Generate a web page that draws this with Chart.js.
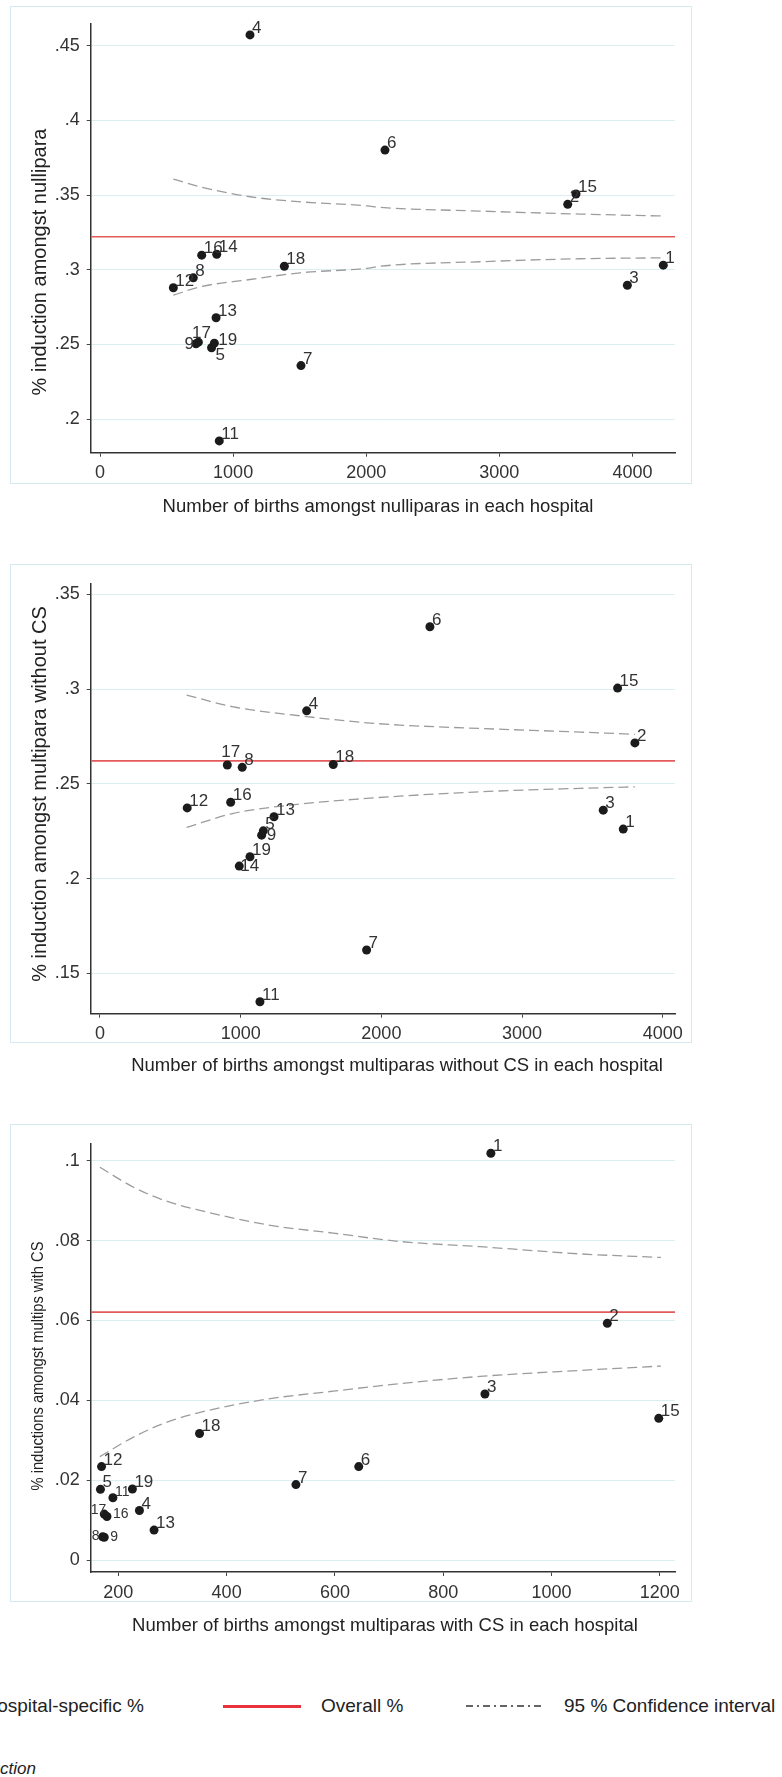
<!DOCTYPE html>
<html>
<head>
<meta charset="utf-8">
<script src="https://cdn.jsdelivr.net/npm/chart.js@4.4.1/dist/chart.umd.min.js"></script>
<style>
  body { margin: 0; width: 782px; height: 1777px; overflow: hidden; background: #fff; position: relative; font-family: "Liberation Sans", Arial, sans-serif; }
  .frame { position: absolute; border: 1px solid #d4eaee; box-sizing: border-box; }
  canvas { position: absolute; left: 0; }
  .leg { position: absolute; font-size: 19px; color: #222; white-space: nowrap; line-height: 22px; }
</style>
</head>
<body>
<div class="frame" style="left:10px;top:6px;width:682px;height:478px"></div>
<div class="frame" style="left:10px;top:564px;width:682px;height:479px"></div>
<div class="frame" style="left:10px;top:1124px;width:682px;height:478px"></div>

<canvas id="nulli" width="782" height="540" style="top:0px"></canvas>
<canvas id="multi" width="782" height="570" style="top:540px"></canvas>
<canvas id="cs" width="782" height="560" style="top:1110px"></canvas>

<div class="leg" style="left:-100px;width:244px;text-align:right;top:1695px">Hospital-specific %</div>
<div style="position:absolute;left:223px;top:1705px;width:78px;height:3px;background:#e8333c"></div>
<div class="leg" style="left:321px;top:1695px">Overall %</div>
<svg style="position:absolute;left:466px;top:1700px" width="76" height="12">
  <line x1="0" y1="6" x2="76" y2="6" stroke="#333" stroke-width="1.5" stroke-dasharray="7 4 2 4"></line>
</svg>
<div class="leg" style="left:564px;top:1695px">95 % Confidence interval</div>
<div class="leg" style="left:-100px;width:136px;text-align:right;top:1758px;font-style:italic;font-size:17px">Induction</div>

<script>
// hospitals (no. 10 is absent in all three panels)
const hospitals = [1, 2, 3, 4, 5, 6, 7, 8, 9, 11, 12, 13, 14, 15, 16, 17, 18, 19];

// nulliparas
const nulliBirths = [4232, 3514, 3962, 1127, 838, 2141, 1510, 701, 721, 896, 551, 872, 877, 3576, 764, 739, 1385, 859];
const nulliRate = [0.3031, 0.3438, 0.2897, 0.4572, 0.2478, 0.3801, 0.2359, 0.2946, 0.2505, 0.1855, 0.2880, 0.2679, 0.3104, 0.3507, 0.3098, 0.2516, 0.3024, 0.2509];
const nulliOverall = 0.3221;
const nulliCiN = [551, 751, 1127, 1503, 2004, 2104, 2855, 3606, 4227];
const nulliCiUpper = [0.3607, 0.3556, 0.3489, 0.3455, 0.3428, 0.3418, 0.3393, 0.3373, 0.3360];
const nulliCiLower = [0.2830, 0.2886, 0.2935, 0.2980, 0.3010, 0.3024, 0.3054, 0.3074, 0.3080];
const nulliXRange = [-70, 4320];
const nulliYRange = [0.1776, 0.4645];
const nulliXTicks = [0, 1000, 2000, 3000, 4000];
const nulliYTicks = [0.2, 0.25, 0.3, 0.35, 0.4, 0.45];
const nulliYLabels = ['.2', '.25', '.3', '.35', '.4', '.45'];

// multiparas without CS
const multiBirths = [3719, 3802, 3577, 1469, 1161, 2345, 1895, 1011, 1149, 1137, 620, 1237, 990, 3679, 929, 905, 1658, 1066];
const multiRate = [0.2261, 0.2716, 0.2361, 0.2885, 0.2252, 0.3329, 0.1623, 0.2587, 0.2229, 0.1350, 0.2373, 0.2326, 0.2066, 0.3005, 0.2403, 0.2599, 0.2602, 0.2115];
const multiOverall = 0.2621;
const multiCiN = [616, 948, 1421, 1895, 2132, 2701, 3412, 3802];
const multiCiUpper = [0.2968, 0.2906, 0.2859, 0.2822, 0.2810, 0.2792, 0.2773, 0.2761];
const multiCiLower = [0.2270, 0.2344, 0.2393, 0.2423, 0.2435, 0.2458, 0.2476, 0.2484];
const multiXRange = [-66, 4087];
const multiYRange = [0.1287, 0.3558];
const multiXTicks = [0, 1000, 2000, 3000, 4000];
const multiYTicks = [0.15, 0.2, 0.25, 0.3, 0.35];
const multiYLabels = ['.15', '.2', '.25', '.3', '.35'];

// multiparas with CS
const csHospitals = [1, 2, 3, 4, 5, 6, 7, 8, 9, 11, 12, 13, 15, 16, 17, 18, 19];
const csBirths = [888, 1103, 877, 239, 167, 644, 528, 171, 174, 190, 169, 266, 1198, 179, 174, 350, 226];
const csRate = [0.1019, 0.0593, 0.0416, 0.0124, 0.0177, 0.0234, 0.0189, 0.0058, 0.0057, 0.0156, 0.0234, 0.0075, 0.0355, 0.0109, 0.0115, 0.0317, 0.0178];
const csOverall = 0.0621;
const csCiN = [166, 228, 289, 351, 474, 597, 720, 868, 1052, 1202];
const csCiUpper = [0.0984, 0.0934, 0.0899, 0.0876, 0.0840, 0.0819, 0.0798, 0.0785, 0.0767, 0.0758];
const csCiLower = [0.0259, 0.0308, 0.0345, 0.0370, 0.0403, 0.0423, 0.0442, 0.0460, 0.0475, 0.0486];
const csXRange = [149, 1228];
const csYRange = [-0.003, 0.1044];
const csXTicks = [200, 400, 600, 800, 1000, 1200];
const csYTicks = [0, 0.02, 0.04, 0.06, 0.08, 0.1];
const csYLabels = ['0', '.02', '.04', '.06', '.08', '.1'];

const FONT = '"Liberation Sans", Arial, sans-serif';

// draws the hospital number next to each dot
const pointLabels = {
  id: 'pointLabels',
  afterDatasetsDraw(chart, args, opts) {
    const ctx = chart.ctx;
    const meta = chart.getDatasetMeta(0);
    ctx.save();
    ctx.fillStyle = '#333';
    meta.data.forEach(function (pt, i) {
      const id = opts.ids[i];
      const p = opts.pos[id] || [2, -2, 'left', 'alphabetic'];
      ctx.font = (opts.small.indexOf(id) >= 0 ? 14 : 17) + 'px ' + FONT;
      ctx.textAlign = p[2];
      ctx.textBaseline = p[3];
      ctx.fillText(String(id), pt.x + p[0], pt.y + p[1]);
    });
    ctx.restore();
  }
};

const axisTitles = {
  id: 'axisTitles',
  afterDraw(chart, args, opts) {
    const ctx = chart.ctx;
    ctx.save();
    ctx.fillStyle = '#222';
    ctx.textAlign = 'center';
    ctx.textBaseline = 'middle';
    ctx.font = opts.xSize + 'px ' + FONT;
    ctx.fillText(opts.xText, opts.xPos[0], opts.xPos[1]);
    ctx.translate(opts.yPos[0], opts.yPos[1]);
    ctx.rotate(-Math.PI / 2);
    ctx.scale(opts.yStretch || 1, 1);
    ctx.font = opts.ySize + 'px ' + FONT;
    ctx.fillText(opts.yText, 0, 0);
    ctx.restore();
  }
};

function makePanel(id, p) {
  var pts = p.x.map(function (v, i) { return {x: v, y: p.y[i]}; });
  var up = p.ciN.map(function (v, i) { return {x: v, y: p.ciU[i]}; });
  var lo = p.ciN.map(function (v, i) { return {x: v, y: p.ciL[i]}; });
  var overall = [{x: p.xRange[0], y: p.overall}, {x: p.xRange[1], y: p.overall}];
  var ciStyle = {borderColor: '#9c9c9c', borderWidth: 1.3, borderDash: [10, 5], pointRadius: 0, cubicInterpolationMode: 'monotone', order: 2};

  new Chart(document.getElementById(id), {
    type: 'scatter',
    data: {
      datasets: [
        {data: pts, backgroundColor: '#1b1b1b', borderWidth: 0, pointRadius: 4.5, order: 0},
        {type: 'line', data: overall, borderColor: '#e35a5a', borderWidth: 1.6, pointRadius: 0, order: 3},
        Object.assign({type: 'line', data: up}, ciStyle),
        Object.assign({type: 'line', data: lo}, ciStyle)
      ]
    },
    options: {
      responsive: false,
      animation: false,
      layout: {padding: {top: p.top, right: 107, left: 0, bottom: 0}},
      plugins: {
        legend: {display: false},
        tooltip: {enabled: false},
        pointLabels: {ids: p.ids, pos: p.labelPos, small: p.small || []},
        axisTitles: p.titles
      },
      scales: {
        x: {
          type: 'linear',
          min: p.xRange[0], max: p.xRange[1],
          afterBuildTicks: function (s) { s.ticks = p.xTicks.map(function (v) { return {value: v}; }); },
          afterFit: function (s) { s.height = p.xHeight; },
          grid: {drawOnChartArea: false, drawTicks: true, tickLength: 4, tickColor: '#444', tickWidth: 1},
          border: {display: true, color: '#333', width: 1.5},
          ticks: {color: '#333', font: {family: FONT, size: 18}, padding: 6, maxRotation: 0,
                  callback: function (v) { return String(v); }}
        },
        y: {
          min: p.yRange[0], max: p.yRange[1],
          afterBuildTicks: function (s) { s.ticks = p.yTicks.map(function (v) { return {value: v}; }); },
          afterFit: function (s) { s.width = 90.7; },
          grid: {color: '#dbeef1', lineWidth: 1, drawTicks: true, tickLength: 4, tickColor: '#444', tickWidth: 1},
          border: {display: true, color: '#333', width: 1.5},
          ticks: {color: '#333', font: {family: FONT, size: 18}, padding: 7,
                  callback: function (v, i) { return p.yLabels[i]; }}
        }
      }
    },
    plugins: [pointLabels, axisTitles]
  });
}

makePanel('nulli', {
  ids: hospitals, x: nulliBirths, y: nulliRate, overall: nulliOverall,
  ciN: nulliCiN, ciU: nulliCiUpper, ciL: nulliCiLower,
  xRange: nulliXRange, yRange: nulliYRange, xTicks: nulliXTicks, yTicks: nulliYTicks, yLabels: nulliYLabels,
  top: 24, xHeight: 540 - 452.7,
  labelPos: {17: [3, -4, 'center', 'alphabetic'], 9: [-2, 1, 'right', 'middle'], 19: [4, -3, 'left', 'middle'], 5: [4, 8, 'left', 'middle']},
  titles: {xText: 'Number of births amongst nulliparas in each hospital', xPos: [378, 507], xSize: 18.5,
           yText: '% induction amongst nullipara', yPos: [40, 262], ySize: 20}
});

makePanel('multi', {
  ids: hospitals, x: multiBirths, y: multiRate, overall: multiOverall,
  ciN: multiCiN, ciU: multiCiUpper, ciL: multiCiLower,
  xRange: multiXRange, yRange: multiYRange, xTicks: multiXTicks, yTicks: multiYTicks, yLabels: multiYLabels,
  top: 43.3, xHeight: 570 - 473.7,
  labelPos: {17: [3.5, -8, 'center', 'alphabetic'], 9: [5, 0.5, 'left', 'middle'], 14: [1, 0, 'left', 'middle']},
  titles: {xText: 'Number of births amongst multiparas without CS in each hospital', xPos: [397, 526], xSize: 18.5,
           yText: '% induction amongst multipara without CS', yPos: [40, 254], ySize: 20}
});

makePanel('cs', {
  ids: csHospitals, x: csBirths, y: csRate, overall: csOverall,
  ciN: csCiN, ciU: csCiUpper, ciL: csCiLower,
  xRange: csXRange, yRange: csYRange, xTicks: csXTicks, yTicks: csYTicks, yLabels: csYLabels,
  top: 33.3, xHeight: 560 - 462,
  small: [11, 17, 16, 8, 9],
  labelPos: {17: [2, 0, 'right', 'alphabetic'], 16: [6, -2, 'left', 'middle'], 8: [-3, -1, 'right', 'middle'], 9: [6, 0, 'left', 'middle']},
  titles: {xText: 'Number of births amongst multiparas with CS in each hospital', xPos: [385, 516], xSize: 18.5,
           yText: '% inductions amongst multips with CS', yPos: [38, 256], ySize: 16.7, yStretch: 0.88}
});
</script>
</body>
</html>
